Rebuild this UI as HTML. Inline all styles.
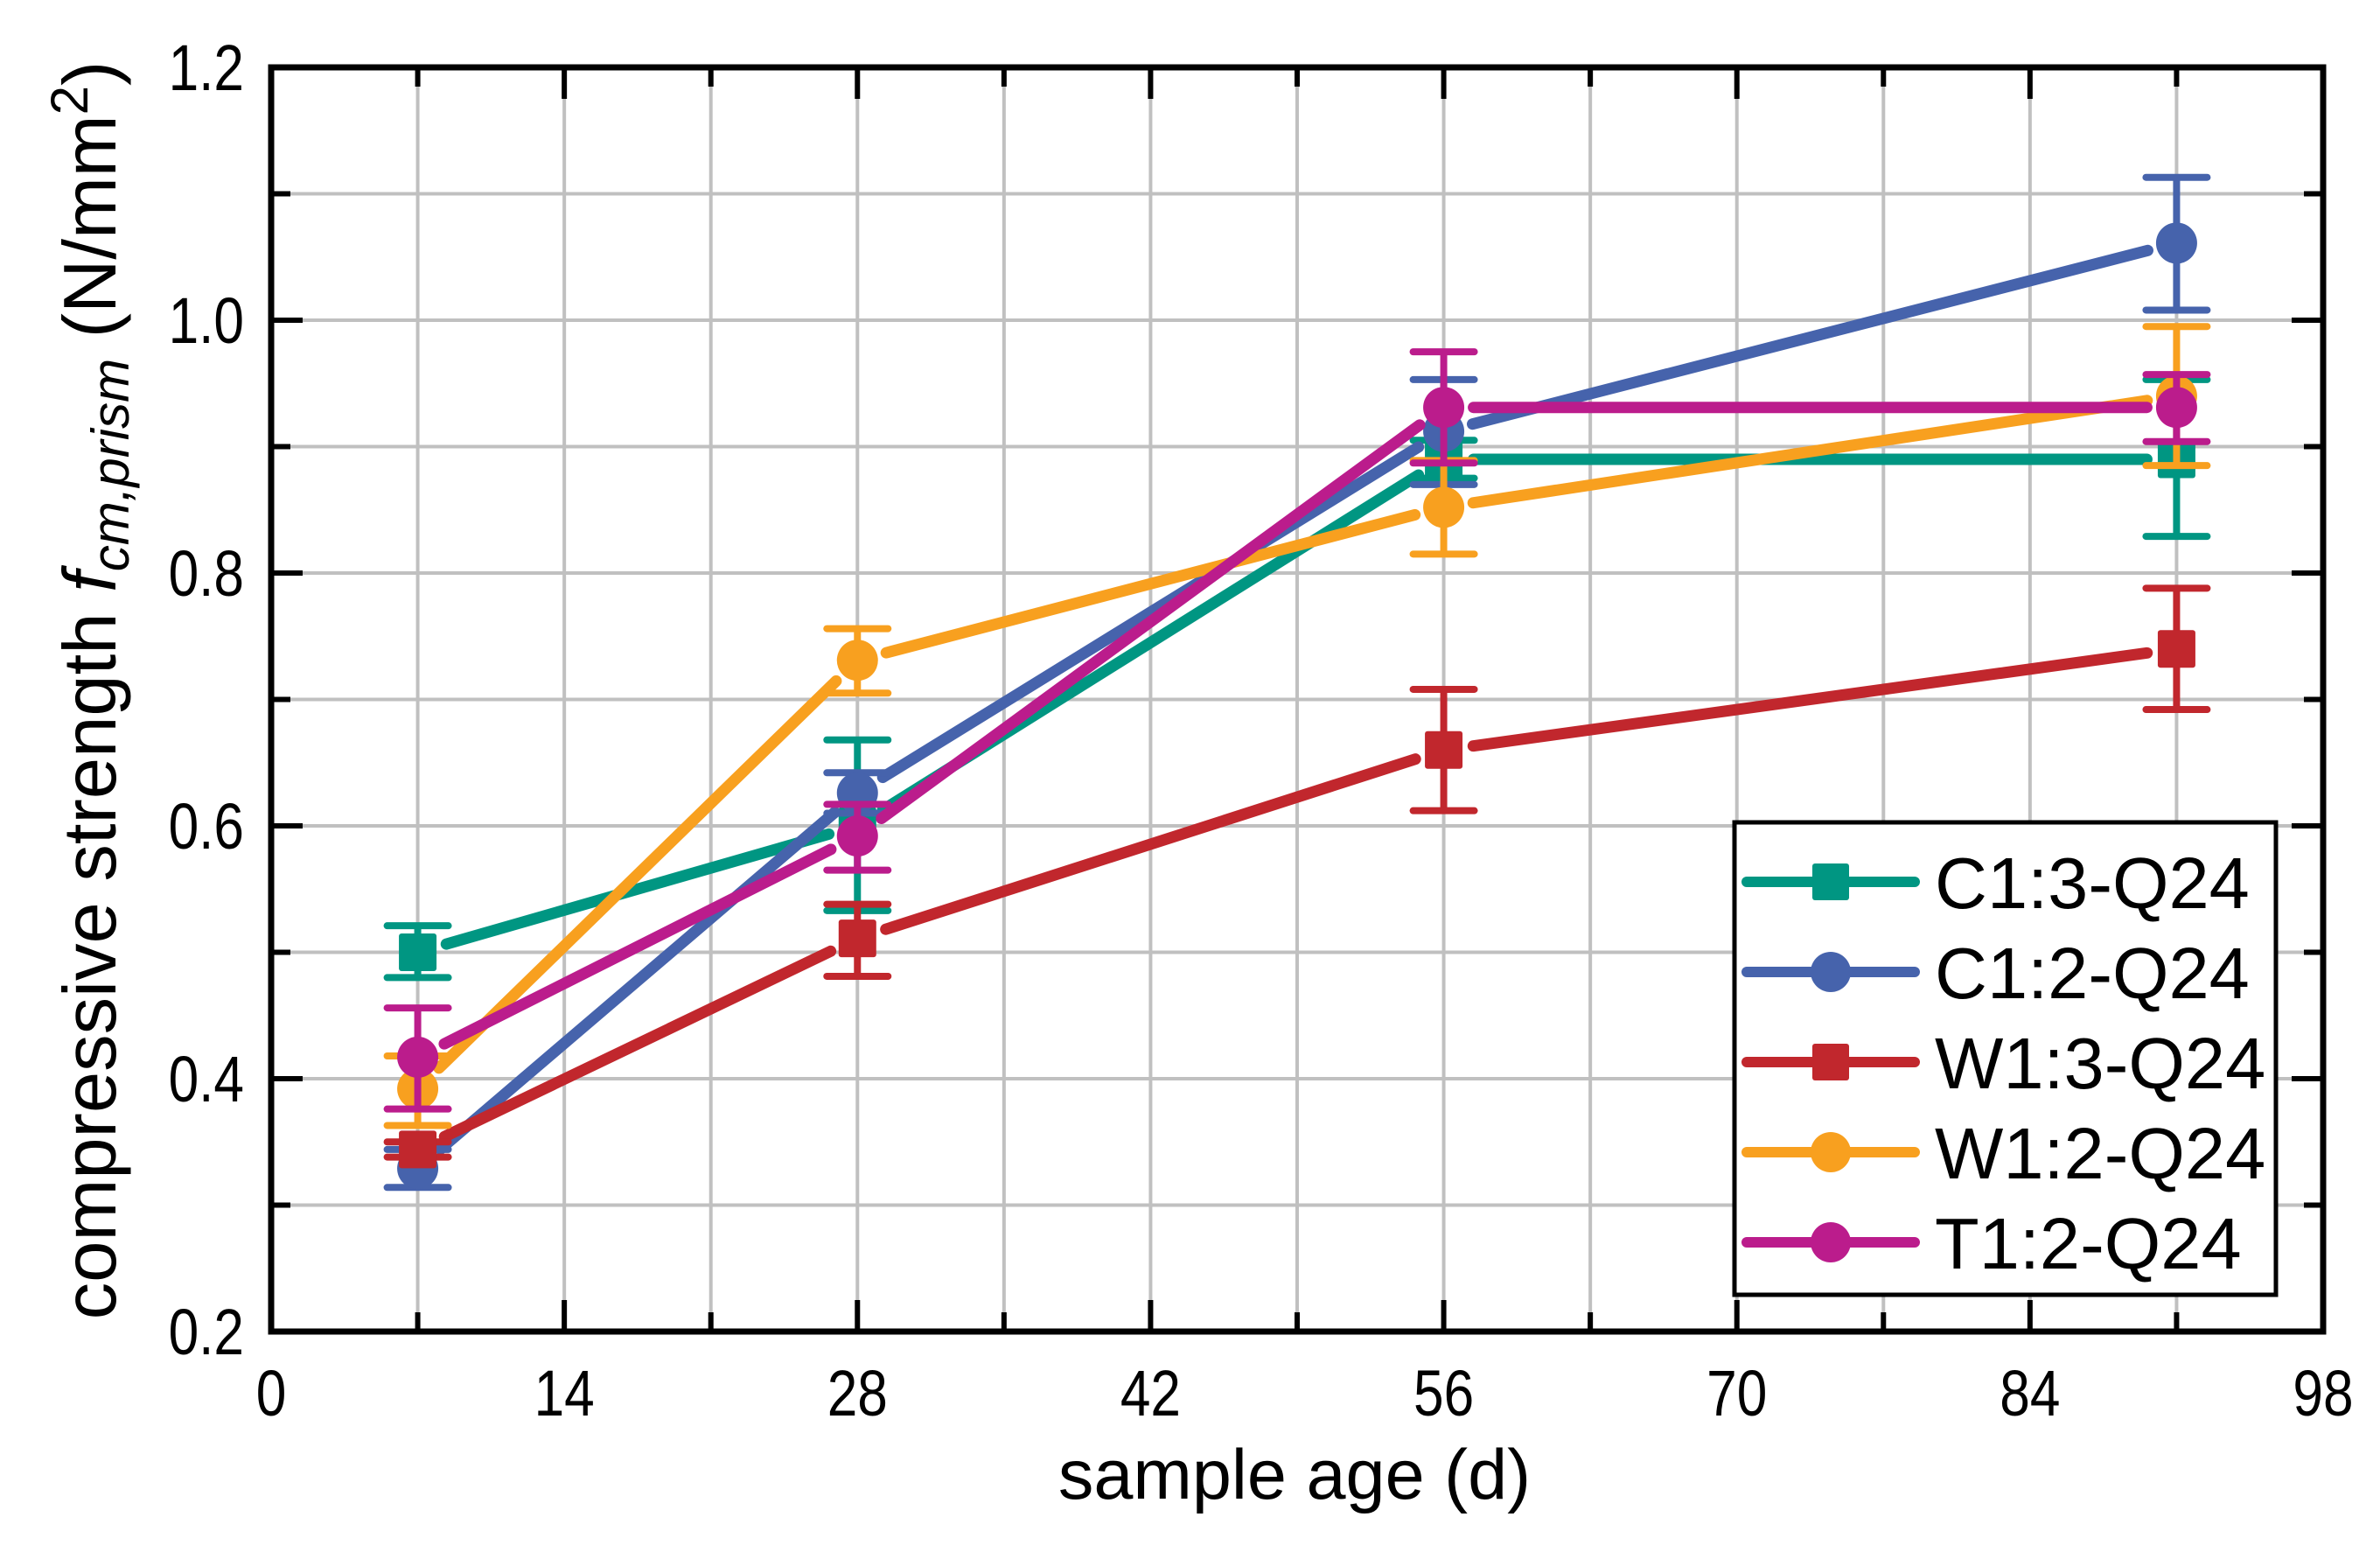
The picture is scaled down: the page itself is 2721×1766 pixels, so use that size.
<!DOCTYPE html>
<html><head><meta charset="utf-8"><style>
html,body{margin:0;padding:0;background:#fff;}
svg{display:block;font-family:"Liberation Sans",Arial,sans-serif;}
</style></head><body>
<svg id="chart" width="2721" height="1766" viewBox="0 0 2721 1766" xmlns="http://www.w3.org/2000/svg">
<rect width="2721" height="1766" fill="#fff"/>
<g id="grid"></g>
<g id="series"></g>
<g id="axes"></g>
<text x="1480" y="1713" font-size="81" text-anchor="middle">sample age (d)</text>
<text transform="translate(132,789) rotate(-90)" font-size="85" text-anchor="middle">compressive strength <tspan font-style="italic">f</tspan><tspan font-style="italic" font-size="60" dy="15">cm,prism</tspan><tspan dy="-15"> (N/mm</tspan><tspan font-size="60" dy="-32">2</tspan><tspan dy="32">)</tspan></text>
<g id="legend"></g>
</svg>
<script>
const xTicks = [0, 14, 28, 42, 56, 70, 84, 98];
const yTicks = [0.2, 0.4, 0.6, 0.8, 1.0, 1.2];
const yTickLabels = ["0.2", "0.4", "0.6", "0.8", "1.0", "1.2"];
const ages = [7, 28, 56, 91];
const seriesNames = ["C1:3-Q24", "C1:2-Q24", "W1:3-Q24", "W1:2-Q24", "T1:2-Q24"];
const seriesColors = ["#009682", "#4663ac", "#c1272d", "#f8a01f", "#bb1c8c"];
const seriesMarkers = ["square", "circle", "square", "circle", "circle"];
const c13Mean = [0.50, 0.60, 0.89, 0.89];
const c13Lo = [0.48, 0.533, 0.875, 0.829];
const c13Hi = [0.521, 0.668, 0.905, 0.953];
const c12Mean = [0.329, 0.626, 0.912, 1.061];
const c12Lo = [0.314, 0.610, 0.870, 1.008];
const c12Hi = [0.344, 0.642, 0.953, 1.113];
const w13Mean = [0.344, 0.511, 0.66, 0.74];
const w13Lo = [0.338, 0.481, 0.612, 0.692];
const w13Hi = [0.350, 0.538, 0.708, 0.788];
const w12Mean = [0.392, 0.731, 0.852, 0.94];
const w12Lo = [0.363, 0.705, 0.815, 0.885];
const w12Hi = [0.418, 0.756, 0.889, 0.995];
const t12Mean = [0.417, 0.592, 0.931, 0.931];
const t12Lo = [0.376, 0.565, 0.887, 0.904];
const t12Hi = [0.456, 0.617, 0.975, 0.957];
const means = [c13Mean, c12Mean, w13Mean, w12Mean, t12Mean];
const los = [c13Lo, c12Lo, w13Lo, w12Lo, t12Lo];
const his = [c13Hi, c12Hi, w13Hi, w12Hi, t12Hi];

const NS = "http://www.w3.org/2000/svg";
const L = 310, R = 2656, T = 77, B = 1522;
const xMin = 0, xMax = 98, yMin = 0.2, yMax = 1.2;
function sx(v){ return L + (v - xMin) / (xMax - xMin) * (R - L); }
function sy(v){ return B - (v - yMin) / (yMax - yMin) * (B - T); }
function mk(tag, attrs, parent){
  const e = document.createElementNS(NS, tag);
  for (const k in attrs) e.setAttribute(k, attrs[k]);
  parent.appendChild(e);
  return e;
}
const grid = document.getElementById('grid');
const axes = document.getElementById('axes');
const ser = document.getElementById('series');
const leg = document.getElementById('legend');

for (let v = 7; v < 98; v += 7) {
  const ln = mk('line', {x1: sx(v), x2: sx(v), y1: T, y2: B, stroke: '#c0c0c0', 'stroke-width': 4}, grid);
  
  
}
for (let i = 1; i < 10; i++) {
  const v = yMin + i * 0.1;
  const ln = mk('line', {x1: L, x2: R, y1: sy(v), y2: sy(v), stroke: '#c0c0c0', 'stroke-width': 4}, grid);
  
  
}

seriesNames.forEach((name, s) => {
  const g = mk('g', {}, ser);
  
  
  const col = seriesColors[s];
  const m = means[s], lo = los[s], hi = his[s];
  for (let i = 0; i < ages.length - 1; i++) {
    const x1 = sx(ages[i]), y1 = sy(m[i]), x2 = sx(ages[i+1]), y2 = sy(m[i+1]);
    const d = Math.hypot(x2 - x1, y2 - y1), gap = 34;
    const ux = (x2 - x1) / d, uy = (y2 - y1) / d;
    const seg = mk('line', {x1: x1 + ux*gap, y1: y1 + uy*gap, x2: x2 - ux*gap, y2: y2 - uy*gap, stroke: col, 'stroke-width': 13, 'stroke-linecap': 'round'}, g);
    
    
  }
  ages.forEach((a, i) => {
    const x = sx(a);
    const eb = mk('line', {x1: x, x2: x, y1: sy(lo[i]), y2: sy(hi[i]), stroke: col, 'stroke-width': 8}, g);
    
    
    [lo[i], hi[i]].forEach(v => {
      const cap = mk('line', {x1: x - 35, x2: x + 35, y1: sy(v), y2: sy(v), stroke: col, 'stroke-width': 8, 'stroke-linecap': 'round'}, g);
      
      
    });
    let mark;
    if (seriesMarkers[s] === 'square') {
      mark = mk('rect', {x: x - 21.5, y: sy(m[i]) - 21.5, width: 43, height: 43, rx: 3, fill: col}, g);
    } else {
      mark = mk('circle', {cx: x, cy: sy(m[i]), r: 23.5, fill: col}, g);
    }
    
    
  });
});

const frame = mk('rect', {x: L, y: T, width: R - L, height: B - T, fill: 'none', stroke: '#000', 'stroke-width': 7}, axes);


for (let v = 7; v < 98; v += 7) {
  const major = xTicks.indexOf(v) >= 0;
  const len = major ? 36 : 22;
  const t1 = mk('line', {x1: sx(v), x2: sx(v), y1: B, y2: B - len, stroke: '#000', 'stroke-width': 6}, axes);
  
  
  const t2 = mk('line', {x1: sx(v), x2: sx(v), y1: T, y2: T + len, stroke: '#000', 'stroke-width': 6}, axes);
  
  
}
xTicks.forEach(v => {
  const t = mk('text', {x: 0, y: 0, 'font-size': 74, 'text-anchor': 'middle', transform: 'translate(' + sx(v) + ',1618) scale(0.84,1)'}, axes);
  t.textContent = String(v);
  
  
});
for (let i = 1; i < 10; i++) {
  const v = yMin + i * 0.1;
  const major = i % 2 === 0;
  const len = major ? 36 : 22;
  const t1 = mk('line', {x1: L, x2: L + len, y1: sy(v), y2: sy(v), stroke: '#000', 'stroke-width': 6}, axes);
  
  
  const t2 = mk('line', {x1: R, x2: R - len, y1: sy(v), y2: sy(v), stroke: '#000', 'stroke-width': 6}, axes);
  
  
}
yTicks.forEach((v, i) => {
  const t = mk('text', {x: 0, y: 0, 'font-size': 74, 'text-anchor': 'end', transform: 'translate(279,' + (sy(v) + 26) + ') scale(0.84,1)'}, axes);
  t.textContent = yTickLabels[i];
  
  
});

const box = mk('rect', {x: 1983, y: 940, width: 619, height: 540, fill: '#fff', stroke: '#000', 'stroke-width': 5}, leg);


seriesNames.forEach((name, s) => {
  const cy = 1008 + s * 103;
  const col = seriesColors[s];
  const g = mk('g', {}, leg);
  
  
  mk('line', {x1: 1997, x2: 2189, y1: cy, y2: cy, stroke: col, 'stroke-width': 12, 'stroke-linecap': 'round'}, g);
  if (seriesMarkers[s] === 'square') mk('rect', {x: 2072, y: cy - 21, width: 42, height: 42, rx: 3, fill: col}, g);
  else mk('circle', {cx: 2093, cy: cy, r: 23, fill: col}, g);
  const t = mk('text', {x: 2212, y: cy + 30, 'font-size': 83}, g);
  t.textContent = name;
});
</script>
</body></html>
